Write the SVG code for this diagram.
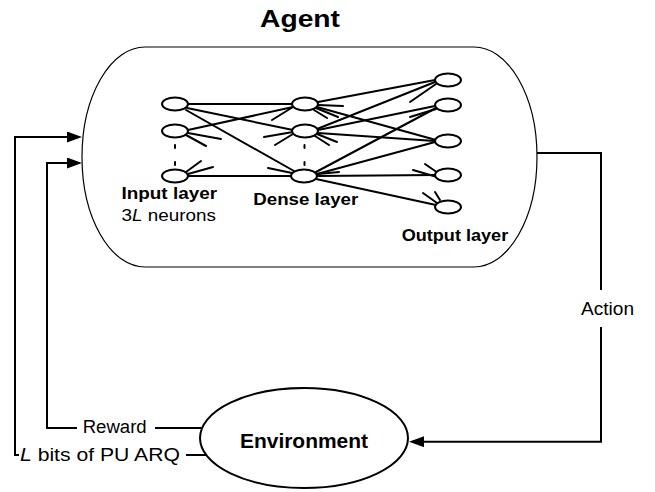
<svg xmlns="http://www.w3.org/2000/svg" width="655" height="492" viewBox="0 0 655 492">
  <defs>
    <style>
      .t { font-family: "Liberation Sans", Arial, sans-serif; fill: #000; }
      .b { font-weight: bold; }
      .n { fill: #fff; stroke: #000; stroke-width: 2; }
      .e { stroke: #000; stroke-width: 2; fill: none; stroke-linecap: round; }
      .c { stroke: #000; stroke-width: 2; fill: none; }
      .bg { fill: #fff; stroke: none; }
    </style>
    <marker id="arr" markerUnits="userSpaceOnUse" markerWidth="15" markerHeight="11" refX="12" refY="5.5" orient="auto">
      <path d="M0,0 L15,5.5 L0,11 Z" fill="#000"/>
    </marker>
  </defs>
  <rect width="655" height="492" fill="#fff"/>

  <g id="agent">
    <rect x="82" y="47" width="455" height="220" rx="63" ry="110" fill="#fff" stroke="#000" stroke-width="1.2"/>
    <text class="t b" x="260" y="27" font-size="24" textLength="80" lengthAdjust="spacingAndGlyphs">Agent</text>
  </g>

  <g id="network-edges">
    <!-- input to dense -->
    <line class="e" x1="188" y1="104" x2="292" y2="104"/>
    <line class="e" x1="187" y1="108" x2="293" y2="130"/>
    <line class="e" x1="186" y1="110" x2="294" y2="171"/>
    <line class="e" x1="188" y1="130" x2="293" y2="107"/>
    <line class="e" x1="188" y1="176" x2="291" y2="176"/>
    <!-- input stubs -->
    <line class="e" x1="188" y1="133" x2="221" y2="139"/>
    <line class="e" x1="186" y1="135" x2="206" y2="146"/>
    <line class="e" x1="186" y1="172" x2="201" y2="161"/>
    <line class="e" x1="188" y1="174" x2="213" y2="167"/>
    <!-- dense incoming stubs -->
    <line class="e" x1="272" y1="120" x2="293" y2="107"/>
    <line class="e" x1="264" y1="137" x2="293" y2="132"/>
    <line class="e" x1="275" y1="145" x2="293" y2="134"/>
    <line class="e" x1="268" y1="168" x2="292" y2="173"/>
    <!-- dense to output -->
    <line class="e" x1="318" y1="102" x2="435" y2="80"/>
    <line class="e" x1="317" y1="107" x2="436" y2="140"/>
    <line class="e" x1="317" y1="129" x2="435" y2="82"/>
    <line class="e" x1="318" y1="130" x2="435" y2="106"/>
    <line class="e" x1="318" y1="133" x2="435" y2="141"/>
    <line class="e" x1="316" y1="172" x2="436" y2="108"/>
    <line class="e" x1="317" y1="174" x2="435" y2="142"/>
    <line class="e" x1="317" y1="176" x2="435" y2="175"/>
    <line class="e" x1="316" y1="179" x2="436" y2="205"/>
    <!-- dense outgoing stubs -->
    <line class="e" x1="318" y1="105" x2="343" y2="106"/>
    <line class="e" x1="316" y1="108" x2="338" y2="117"/>
    <line class="e" x1="314" y1="110" x2="327" y2="118"/>
    <line class="e" x1="317" y1="134" x2="337" y2="142"/>
    <line class="e" x1="315" y1="136" x2="329" y2="145"/>
    <line class="e" x1="318" y1="174" x2="339" y2="172"/>
    <!-- output incoming stubs -->
    <line class="e" x1="410" y1="102" x2="436" y2="84"/>
    <line class="e" x1="410" y1="117" x2="436" y2="109"/>
    <line class="e" x1="413" y1="170" x2="437" y2="177"/>
    <line class="e" x1="425" y1="164" x2="438" y2="173"/>
    <line class="e" x1="423" y1="193" x2="437" y2="203"/>
    <line class="e" x1="435" y1="192" x2="440" y2="200"/>
    <!-- ellipsis dots -->
    <line class="e" x1="175" y1="145" x2="175" y2="148"/>
    <line class="e" x1="175" y1="162" x2="175" y2="165"/>
    <line class="e" x1="304.5" y1="145" x2="304.5" y2="148"/>
    <line class="e" x1="304.5" y1="162" x2="304.5" y2="165"/>
  </g>

  <g id="input-layer">
    <ellipse class="n" cx="175" cy="104" rx="13" ry="6.5"/>
    <ellipse class="n" cx="175" cy="131" rx="13" ry="6.5"/>
    <ellipse class="n" cx="175" cy="176" rx="13" ry="6.5"/>
    <text class="t b" x="121.5" y="199.3" font-size="17" textLength="95.5" lengthAdjust="spacingAndGlyphs">Input layer</text>
    <text class="t" x="121.5" y="220.7" font-size="17" textLength="94.5" lengthAdjust="spacingAndGlyphs">3<tspan font-style="italic">L</tspan> neurons</text>
  </g>

  <g id="dense-layer">
    <ellipse class="n" cx="305" cy="104" rx="13" ry="6.5"/>
    <ellipse class="n" cx="305" cy="131" rx="13" ry="6.5"/>
    <ellipse class="n" cx="304" cy="176" rx="13" ry="6.5"/>
    <text class="t b" x="253.3" y="205" font-size="17" textLength="105" lengthAdjust="spacingAndGlyphs">Dense layer</text>
  </g>

  <g id="output-layer">
    <ellipse class="n" cx="448" cy="80" rx="13" ry="6.5"/>
    <ellipse class="n" cx="448" cy="105" rx="13" ry="6.5"/>
    <ellipse class="n" cx="448" cy="141" rx="13" ry="6.5"/>
    <ellipse class="n" cx="448" cy="175" rx="13" ry="6.5"/>
    <ellipse class="n" cx="448" cy="207" rx="13" ry="6.5"/>
    <text class="t b" x="401.7" y="240.7" font-size="17" textLength="106.5" lengthAdjust="spacingAndGlyphs">Output layer</text>
  </g>

  <g id="environment">
    <ellipse cx="304" cy="438" rx="104" ry="50" fill="#fff" stroke="#000" stroke-width="2"/>
    <text class="t b" x="240" y="447.5" font-size="21" textLength="128" lengthAdjust="spacingAndGlyphs">Environment</text>
  </g>

  <g id="connectors">
    <path class="c" d="M537,153 H601 V441.7 H412" marker-end="url(#arr)"/>
    <path class="c" d="M206,455 H15 V137 H79" marker-end="url(#arr)"/>
    <path class="c" d="M202,428 H47 V163 H79" marker-end="url(#arr)"/>
    <rect class="bg" x="578" y="290" width="59" height="37"/>
    <text class="t" x="581" y="315" font-size="18" textLength="53" lengthAdjust="spacingAndGlyphs">Action</text>
    <rect class="bg" x="77" y="418" width="78" height="20"/>
    <text class="t" x="82.7" y="433.3" font-size="18" textLength="64" lengthAdjust="spacingAndGlyphs">Reward</text>
    <rect class="bg" x="19" y="444" width="167" height="22"/>
    <text class="t" x="20" y="460.5" font-size="18" textLength="160" lengthAdjust="spacingAndGlyphs"><tspan font-style="italic">L</tspan> bits of PU ARQ</text>
  </g>
</svg>
